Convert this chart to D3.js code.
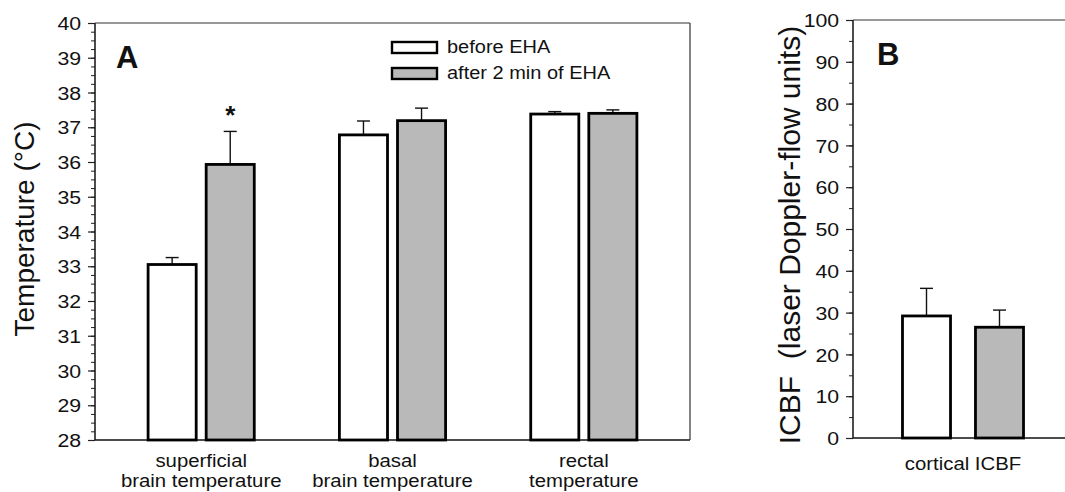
<!DOCTYPE html>
<html>
<head>
<meta charset="utf-8">
<script src="https://cdn.jsdelivr.net/npm/d3@7"></script>
<style>
  body { margin: 0; background: #fff; }
  text { font-family: "Liberation Sans", Arial, sans-serif; fill: #111; }
</style>
</head>
<body>
<div id="chart"></div>
<script>
// panel A data
var groupsA = [["superficial", "brain temperature"], ["basal", "brain temperature"], ["rectal", "temperature"]];
var beforeA = [33.05, 36.78, 37.38];
var afterA = [35.93, 37.19, 37.40];
var beforeErrA = [0.2, 0.4, 0.07];
var afterErrA = [0.95, 0.36, 0.1];
var ticksA = d3.range(28, 41, 1);

// panel B data
var groupsB = [["cortical ICBF"]];
var beforeB = [29.2];
var afterB = [26.5];
var beforeErrB = [6.6];
var afterErrB = [4.1];
var ticksB = d3.range(0, 101, 10);

var keys = ["before EHA", "after 2 min of EHA"];
var grey = "#b9b9b9";

var svg = d3.select("#chart")
  .append("svg")
  .attr("width", 1065)
  .attr("height", 492);

var color = d3.scaleOrdinal().domain(keys).range(["#fff", grey]);

function panel(opts) {
  var g = svg.append("g");
  var y = d3.scaleLinear().domain(opts.domain).range([opts.bottom, opts.top]);
  var x0 = d3.scaleBand()
    .domain(d3.range(opts.groups.length))
    .range([opts.left, opts.right])
    .paddingInner(0)
    .paddingOuter(opts.outer);
  var x1 = d3.scaleBand()
    .domain(keys)
    .range([0, x0.bandwidth()])
    .paddingInner(opts.inner)
    .paddingOuter(opts.inner2);

  // minor ticks
  g.append("g")
    .attr("transform", "translate(" + opts.left + ",0)")
    .call(d3.axisLeft(y).tickValues(opts.minor).tickSize(4).tickFormat(""))
    .call(function(a){ a.select(".domain").remove(); })
    .selectAll("line").attr("stroke", "#222").attr("stroke-width", 1);

  // major ticks
  var ax = g.append("g")
    .attr("transform", "translate(" + opts.left + ",0)")
    .call(d3.axisLeft(y).tickValues(opts.ticks).tickSize(7).tickPadding(5).tickSizeOuter(0));
  ax.select(".domain").remove();
  ax.selectAll("line").attr("stroke", "#222").attr("stroke-width", 1.2);
  ax.selectAll("text")
    .style("font-size", "18.5px")
    .attr("transform", "scale(1.15,1)")
    .attr("dy", "0.36em");

  // frame
  g.append("line").attr("x1", opts.left).attr("x2", opts.left)
    .attr("y1", opts.top).attr("y2", opts.bottom)
    .attr("stroke", "#111").attr("stroke-width", 1.5);
  g.append("line").attr("x1", opts.left).attr("x2", opts.frameRight)
    .attr("y1", opts.bottom).attr("y2", opts.bottom)
    .attr("stroke", "#111").attr("stroke-width", 1.5);
  g.append("line").attr("x1", opts.left).attr("x2", opts.frameRight)
    .attr("y1", opts.top).attr("y2", opts.top)
    .attr("stroke", "#333").attr("stroke-width", 1.2);
  if (opts.rightBorder) {
    g.append("line").attr("x1", opts.frameRight).attr("x2", opts.frameRight)
      .attr("y1", opts.top).attr("y2", opts.bottom)
      .attr("stroke", "#333").attr("stroke-width", 1.2);
  }

  var rows = [];
  opts.groups.forEach(function(d, i) {
    rows.push({g: i, key: keys[0], v: opts.before[i], e: opts.beforeErr[i]});
    rows.push({g: i, key: keys[1], v: opts.after[i], e: opts.afterErr[i]});
  });

  // error bars (upper only)
  var eb = g.selectAll(".err").data(rows).enter().append("g");
  eb.append("line")
    .attr("x1", function(d){ return x0(d.g) + x1(d.key) + x1.bandwidth()/2; })
    .attr("x2", function(d){ return x0(d.g) + x1(d.key) + x1.bandwidth()/2; })
    .attr("y1", function(d){ return y(d.v); })
    .attr("y2", function(d){ return y(d.v + d.e); })
    .attr("stroke", "#111").attr("stroke-width", 1.4);
  eb.append("line")
    .attr("x1", function(d){ return x0(d.g) + x1(d.key) + x1.bandwidth()/2 - 6.5; })
    .attr("x2", function(d){ return x0(d.g) + x1(d.key) + x1.bandwidth()/2 + 6.5; })
    .attr("y1", function(d){ return y(d.v + d.e); })
    .attr("y2", function(d){ return y(d.v + d.e); })
    .attr("stroke", "#111").attr("stroke-width", 1.4);

  // bars
  g.selectAll(".bar").data(rows).enter().append("rect")
    .attr("x", function(d){ return x0(d.g) + x1(d.key); })
    .attr("width", x1.bandwidth())
    .attr("y", function(d){ return y(d.v); })
    .attr("height", function(d){ return y(opts.domain[0]) - y(d.v); })
    .attr("fill", function(d){ return color(d.key); })
    .attr("stroke", "#000")
    .attr("stroke-width", 2.8);

  // category labels
  var lab = g.selectAll(".cat").data(opts.groups).enter().append("text")
    .attr("transform", function(d, i){
      return "translate(" + (x0(i) + x0.bandwidth()/2) + "," + opts.labelY + ") scale(1.1,1)";
    })
    .attr("text-anchor", "middle")
    .style("font-size", "18.5px");
  lab.selectAll("tspan").data(function(d){ return d; }).enter().append("tspan")
    .attr("x", 0)
    .attr("dy", function(d, i){ return i === 0 ? 0 : 20; })
    .text(function(d){ return d; });

  // y title
  g.append("text")
    .attr("transform", "translate(" + opts.titleX + "," + opts.titleY + ") rotate(-90)")
    .attr("text-anchor", "middle")
    .style("font-size", opts.titleSize + "px")
    .style("white-space", "pre")
    .text(opts.title);

  // panel letter
  g.append("text")
    .attr("x", opts.left + opts.letterDx)
    .attr("y", opts.top + 45)
    .style("font-size", "31px")
    .style("font-weight", "bold")
    .text(opts.letter);

  return {g: g, x0: x0, x1: x1, y: y, rows: rows};
}

var pA = panel({
  groups: groupsA, before: beforeA, after: afterA, beforeErr: beforeErrA, afterErr: afterErrA,
  domain: [28, 40], ticks: ticksA, minor: d3.range(28, 40.01, 0.25),
  top: 23, bottom: 440, left: 95, right: 690, frameRight: 690, rightBorder: true,
  outer: 0.055, inner: 0.172, inner2: 0.733, labelY: 467,
  title: "Temperature (°C)", titleX: 34, titleY: 229, titleSize: 28,
  letter: "A", letterDx: 21
});

var pB = panel({
  groups: groupsB, before: beforeB, after: afterB, beforeErr: beforeErrB, afterErr: afterErrB,
  domain: [0, 100], ticks: ticksB, minor: d3.range(0, 100.01, 5),
  top: 20, bottom: 438, left: 853, right: 1073, frameRight: 1065, rightBorder: false,
  outer: 0, inner: 0.342, inner2: 0.678, labelY: 470,
  title: "ICBF\u00a0\u00a0(laser Doppler-flow units)", titleX: 800, titleY: 235, titleSize: 30,
  letter: "B", letterDx: 24
});

// asterisk above the superficial "after" bar
var star = pA.rows[1];
pA.g.append("text")
  .attr("x", pA.x0(star.g) + pA.x1(star.key) + pA.x1.bandwidth()/2)
  .attr("y", pA.y(star.v + star.e) - 7)
  .attr("text-anchor", "middle")
  .style("font-size", "26px")
  .style("font-weight", "bold")
  .text("*");

// legend
var legend = pA.g.append("g");
legend.selectAll("rect").data(keys).enter().append("rect")
  .attr("x", 392)
  .attr("y", function(d, i){ return 42 + i * 26; })
  .attr("width", 45)
  .attr("height", 11)
  .attr("fill", function(d){ return color(d); })
  .attr("stroke", "#000")
  .attr("stroke-width", 2.4);
legend.selectAll("text").data(keys).enter().append("text")
  .attr("transform", function(d, i){ return "translate(447," + (53 + i * 26) + ") scale(1.08,1)"; })
  .style("font-size", "18.5px")
  .text(function(d){ return d; });
</script>
</body>
</html>
